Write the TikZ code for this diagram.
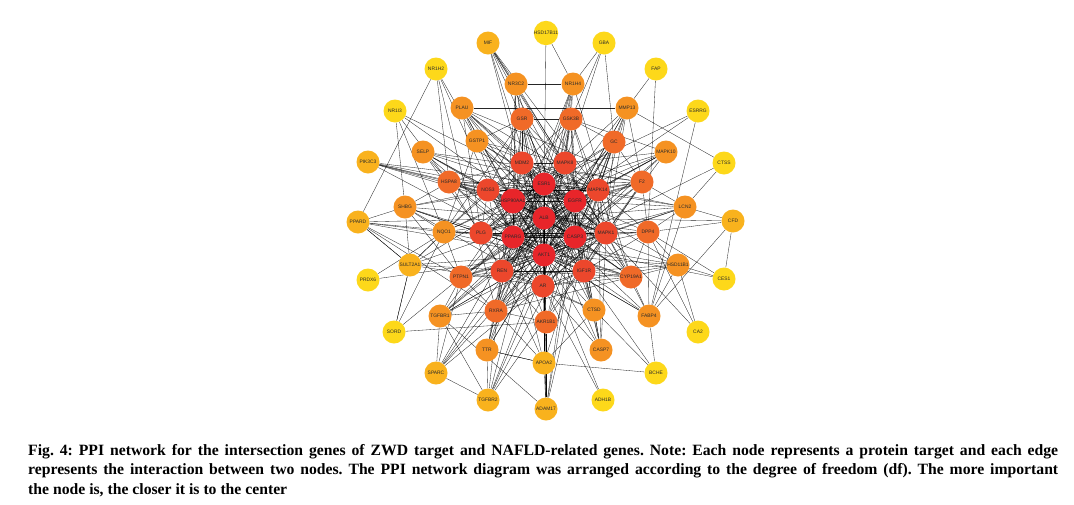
\documentclass[tikz,border=0pt]{standalone}
\usepackage{fontspec}
\setmainfont{Liberation Serif}
\newfontfamily\nodefont{Liberation Sans}
\newfontfamily\capfont{Liberation Serif}
\pgfdeclarelayer{edgelayer}
\pgfdeclarelayer{paper}
\pgfsetlayers{paper,edgelayer,main}
\definecolor{cA}{HTML}{E8252A}
\definecolor{cB}{HTML}{EC472C}
\definecolor{cC}{HTML}{F06A28}
\definecolor{cD}{HTML}{F59222}
\definecolor{cE}{HTML}{F9B21D}
\definecolor{cF}{HTML}{FDD81A}
\definecolor{lbl}{HTML}{2A2A2A}
\tikzset{
  gene/.style={circle, minimum size=23pt, inner sep=0pt, text=lbl, font=\nodefont\fontsize{4.9}{5}\selectfont},
  tA/.style={gene, fill=cA}, tB/.style={gene, fill=cB}, tC/.style={gene, fill=cC},
  tD/.style={gene, fill=cD}, tE/.style={gene, fill=cE}, tF/.style={gene, fill=cF},
  edge/.style={draw=black, line width=0.33pt, opacity=0.85}
}
\newcommand\fanout[2]{\foreach \t in {#2}{\draw[edge] (#1) -- (\t);}}
\begin{document}
\begin{tikzpicture}[x=1pt,y=-1pt]
\begin{pgfonlayer}{paper}
\path[use as bounding box, fill=white] (0,0) rectangle (1074,504);
\end{pgfonlayer}
% nodes
\node[tF] (HSD17B11) at (546,33) {HSD17B11};
\node[tE] (MIF) at (488,43) {MIF};
\node[tF] (GBA) at (604,43) {GBA};
\node[tF] (NR1H2) at (436,69) {NR1H2};
\node[tF] (FAP) at (656,69) {FAP};
\node[tD] (NR3C2) at (516,84) {NR3C2};
\node[tD] (NR1H4) at (573,84) {NR1H4};
\node[tF] (NR1I3) at (395,111) {NR1I3};
\node[tD] (PLAU) at (462,108) {PLAU};
\node[tD] (MMP13) at (627,108) {MMP13};
\node[tF] (ESRRG) at (698,111) {ESRRG};
\node[tC] (GSR) at (522,119) {GSR};
\node[tC] (GSK3B) at (571,119) {GSK3B};
\node[tD] (GSTP1) at (477,141) {GSTP1};
\node[tC] (GC) at (614,142) {GC};
\node[tD] (SELP) at (423,152) {SELP};
\node[tD] (MAPK10) at (666,152) {MAPK10};
\node[tF] (CTSS) at (724,163) {CTSS};
\node[tE] (PIK3C3) at (368,162) {PIK3C3};
\node[tB] (MDM2) at (522,163) {MDM2};
\node[tB] (MAPK8) at (565,163) {MAPK8};
\node[tC] (HSPA8) at (449,182) {HSPA8};
\node[tB] (NOS3) at (488,190) {NOS3};
\node[tA] (ESR1) at (544,184) {ESR1};
\node[tB] (MAPK14) at (598,190) {MAPK14};
\node[tC] (F2) at (642,182) {F2};
\node[tA] (HSP90AA1) at (513,201) {HSP90AA1};
\node[tA] (EGFR) at (575,201) {EGFR};
\node[tD] (SHBG) at (405,207) {SHBG};
\node[tD] (LCN2) at (685,207) {LCN2};
\node[tE] (PPARD) at (358,222) {PPARD};
\node[tE] (CFD) at (733,221) {CFD};
\node[tA] (ALB) at (544,218) {ALB};
\node[tD] (NQO1) at (444,232) {NQO1};
\node[tB] (PLG) at (481,233) {PLG};
\node[tA] (PPARG) at (513,237) {PPARG};
\node[tA] (CASP3) at (575,237) {CASP3};
\node[tB] (MAPK1) at (606,233) {MAPK1};
\node[tC] (DPP4) at (648,232) {DPP4};
\node[tA] (AKT1) at (544,255) {AKT1};
\node[tE] (SULT2A1) at (410,265) {SULT2A1};
\node[tD] (HSD11B1) at (678,265) {HSD11B1};
\node[tF] (PRDX6) at (368,280) {PRDX6};
\node[tF] (CES1) at (724,279) {CES1};
\node[tC] (PTPN1) at (461,277) {PTPN1};
\node[tB] (REN) at (502,271) {REN};
\node[tB] (IGF1R) at (584,271) {IGF1R};
\node[tC] (CYP19A1) at (631,277) {CYP19A1};
\node[tB] (AR) at (543,286) {AR};
\node[tC] (RXRA) at (496,311) {RXRA};
\node[tC] (AKR1B1) at (546,322) {AKR1B1};
\node[tD] (CTSD) at (594,310) {CTSD};
\node[tD] (TGFBR1) at (440,316) {TGFBR1};
\node[tD] (FABP4) at (649,316) {FABP4};
\node[tF] (SORD) at (394,332) {SORD};
\node[tF] (CA2) at (698,332) {CA2};
\node[tD] (CASP7) at (601,350) {CASP7};
\node[tD] (TTR) at (487,350) {TTR};
\node[tE] (APOA2) at (544,363) {APOA2};
\node[tE] (SPARC) at (436,373) {SPARC};
\node[tF] (BCHE) at (656,373) {BCHE};
\node[tE] (TGFBR2) at (488,400) {TGFBR2};
\node[tF] (ADH1B) at (603,400) {ADH1B};
\node[tE] (ADAM17) at (546,409) {ADAM17};
% edges
\begin{pgfonlayer}{edgelayer}
\foreach \a [count=\i] in {ALB,AKT1,EGFR,ESR1,CASP3,PPARG,HSP90AA1,MAPK14,MAPK1,MAPK8,NOS3,PLG,MDM2,REN,IGF1R,AR}{
  \foreach \b [count=\j] in {ALB,AKT1,EGFR,ESR1,CASP3,PPARG,HSP90AA1,MAPK14,MAPK1,MAPK8,NOS3,PLG,MDM2,REN,IGF1R,AR}{
    \ifnum\j>\i \draw[edge] (\a) -- (\b); \fi
  }
}
\fanout{F2}{ALB,AKT1,EGFR,PLG,MAPK14,CASP3,MAPK1,ESR1,IGF1R,HSP90AA1,MDM2}
\fanout{HSPA8}{HSP90AA1,AKT1,ALB,EGFR,ESR1,CASP3,MAPK1,NOS3,MDM2,PPARG,REN,MAPK14}
\fanout{PTPN1}{EGFR,AKT1,IGF1R,ALB,PPARG,MAPK1,REN,RXRA,ESR1,CASP3,HSP90AA1,MAPK14}
\fanout{CYP19A1}{ESR1,AR,AKT1,ALB,PPARG,IGF1R,EGFR,CASP3,MAPK1,RXRA,MAPK14}
\fanout{RXRA}{PPARG,ESR1,AR,AKT1,ALB,REN,CASP3,EGFR,MAPK1,AKR1B1,IGF1R}
\fanout{AKR1B1}{ALB,AKT1,AR,PPARG,CASP3,EGFR,MAPK1,ESR1,APOA2,ADAM17,REN}
\fanout{GSR}{ALB,AKT1,NOS3,MDM2,ESR1,CASP3,EGFR,HSP90AA1,MAPK8,PPARG,GSK3B}
\fanout{GSK3B}{AKT1,ALB,EGFR,MAPK8,MAPK14,MAPK1,ESR1,CASP3,HSP90AA1,MDM2,IGF1R,AR}
\fanout{GC}{ALB,AKT1,ESR1,EGFR,CASP3,MAPK14,F2,PLG,APOA2,TTR,GSK3B,MAPK1,REN}
\fanout{DPP4}{ALB,AKT1,EGFR,CASP3,MAPK1,IGF1R,PPARG,LCN2,HSD11B1,FABP4,CYP19A1,MAPK14,F2}
\fanout{NQO1}{AKT1,ALB,ESR1,HSP90AA1,PPARG,NOS3,PLG,MDM2,GSTP1,GSR,SHBG,SULT2A1,PTPN1,CASP3}
\fanout{PLAU}{ALB,AKT1,EGFR,PLG,MMP13,ESR1,MAPK1,CASP3,F2,MAPK14,HSP90AA1,GSTP1}
\fanout{GSTP1}{ALB,AKT1,GSR,ESR1,CASP3,MAPK8,MAPK14,EGFR,PPARG}
\fanout{NR3C2}{ESR1,AR,AKT1,REN,NR1H4,PPARG,MAPK1,HSP90AA1}
\fanout{NR1H4}{PPARG,RXRA,ALB,AKT1,ESR1,GSK3B,MAPK8,CYP19A1}
\fanout{MMP13}{EGFR,CASP3,MAPK14,MAPK1,AKT1,ALB,IGF1R,ESR1,CTSS,F2}
\fanout{SELP}{ALB,AKT1,F2,EGFR,MAPK14,PLG,NOS3,CASP3,HSPA8}
\fanout{CTSD}{ALB,AKT1,CASP3,CASP7,AR,EGFR,IGF1R,REN,APOA2,ESR1}
\fanout{FABP4}{PPARG,ALB,AKT1,CYP19A1,IGF1R,HSD11B1,MAPK1,LCN2}
\fanout{TGFBR1}{AKT1,EGFR,MAPK1,MAPK14,TGFBR2,ALB,ESR1,PTPN1,CASP3,RXRA}
\fanout{HSD11B1}{PPARG,AKT1,ALB,CYP19A1,AR,ESR1,IGF1R}
\fanout{LCN2}{ALB,AKT1,EGFR,MAPK1,MAPK14,CASP3,ESR1,F2}
\fanout{CASP7}{CASP3,AKT1,MAPK1,EGFR,ALB,IGF1R,AR,MAPK14}
\fanout{TTR}{ALB,AKT1,APOA2,ESR1,RXRA,PPARG,REN}
\fanout{SHBG}{ESR1,AR,AKT1,ALB,CYP19A1,NOS3,HSPA8,SULT2A1,PPARD,PTPN1,PLG}
\fanout{MAPK10}{MAPK8,MAPK14,MAPK1,AKT1,EGFR,CASP3,GSK3B,ALB,HSP90AA1,PLG}
\fanout{MIF}{ALB,AKT1,MAPK14,CASP3,EGFR,MAPK1,NR3C2,MAPK8}
\fanout{SULT2A1}{ESR1,AR,NQO1,PPARD,CYP19A1,ALB,AKT1,SORD}
\fanout{PIK3C3}{AKT1,EGFR,HSPA8,NOS3,MAPK14,HSP90AA1,MAPK1}
\fanout{PPARD}{PPARG,RXRA,NQO1,AKT1,ALB,NR1H2,SULT2A1,PTPN1}
\fanout{CFD}{LCN2,DPP4,FABP4,ALB,CES1}
\fanout{APOA2}{ALB,AKT1,ADAM17,BCHE,RXRA,PPARG,REN,TTR}
\fanout{SPARC}{AKT1,EGFR,TGFBR1,TGFBR2,ALB,PTPN1,MAPK1,ESR1}
\fanout{TGFBR2}{AKT1,EGFR,MAPK1,CASP3,ESR1,REN,TTR}
\fanout{ADAM17}{EGFR,AKT1,AKR1B1,MAPK14,CASP3,TGFBR1,AR}
\fanout{HSD17B11}{NR1H4,AR}
\fanout{GBA}{NR1H4,GSK3B,MAPK8,GC}
\fanout{FAP}{MMP13,DPP4}
\fanout{ESRRG}{ESR1,FABP4,PPARG}
\fanout{CTSS}{LCN2,CASP3}
\fanout{NR1H2}{RXRA,GSTP1,HSPA8,PPARG}
\fanout{NR1I3}{SHBG,HSPA8,ESR1,CYP19A1,NQO1}
\fanout{PRDX6}{NQO1,AKT1}
\fanout{CES1}{DPP4,HSD11B1,PPARG}
\fanout{SORD}{AKR1B1,SULT2A1,PTPN1,NQO1}
\fanout{CA2}{DPP4,HSD11B1,MAPK1}
\fanout{BCHE}{FABP4,IGF1R,CTSD}
\fanout{ADH1B}{AKT1,AR}
\end{pgfonlayer}
% caption
\node[anchor=north west, inner sep=0pt, text width=1030pt, align=justify,
      font=\capfont\bfseries\fontsize{15.7}{19.5}\selectfont] (caption) at (28,444)
{\frenchspacing Fig. 4: PPI network for the intersection genes of ZWD target and NAFLD-related genes. Note: Each node represents a protein target and each edge\linebreak
represents the interaction between two nodes. The PPI network diagram was arranged according to the degree of freedom (df). The more important\linebreak
the node is, the closer it is to the center};
\end{tikzpicture}
\end{document}
